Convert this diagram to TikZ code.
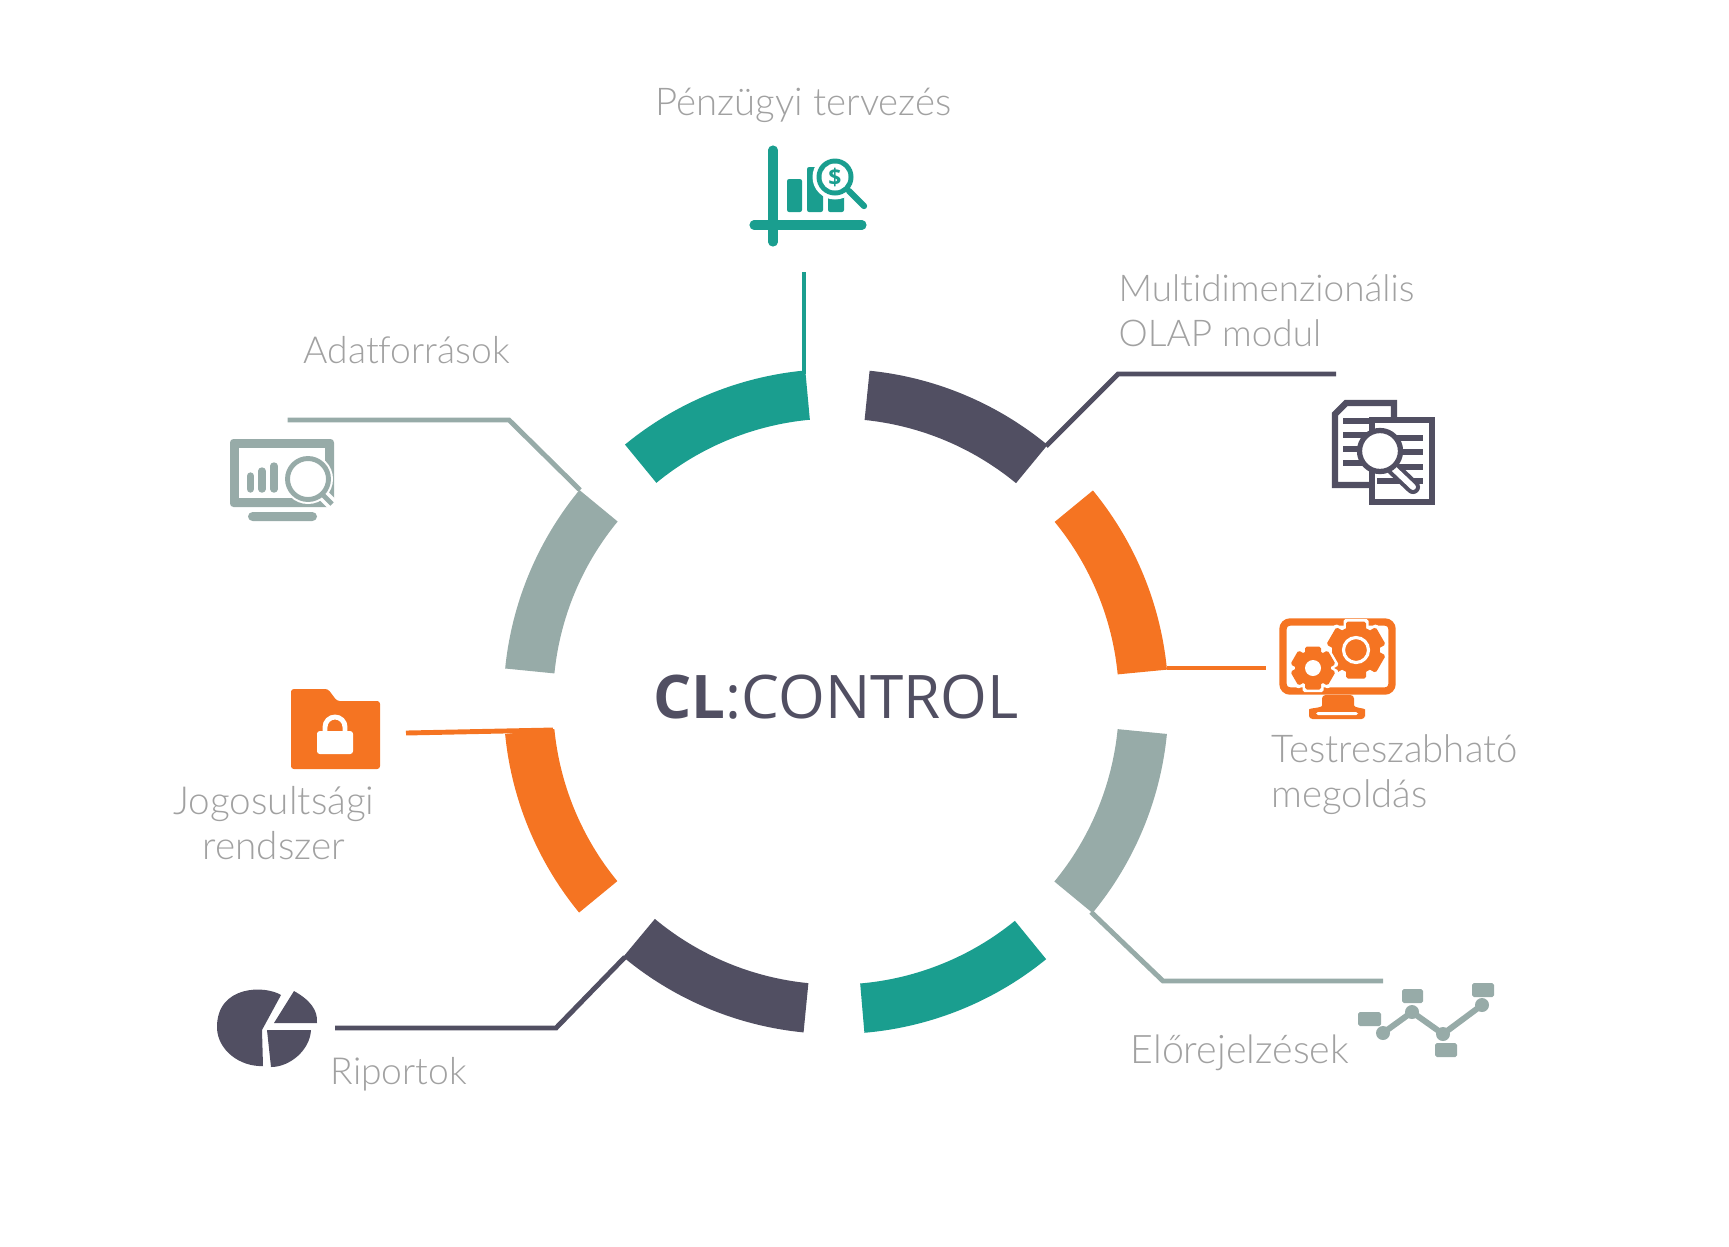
\documentclass[tikz,border=0pt]{standalone}
\usepackage{fontspec}
\setsansfont{Open Sans}
\newfontfamily\labelfont[Ligatures=NoCommon]{Lato Light}
\usetikzlibrary{positioning}
\definecolor{tealc}{HTML}{1A9E8F}
\definecolor{darkc}{HTML}{514F62}
\definecolor{orangec}{HTML}{F57422}
\definecolor{grayc}{HTML}{97ABA8}
\definecolor{textc}{HTML}{A1A1A1}
\tikzset{
  caption/.style={text=textc,font=\labelfont\fontsize{#1}{12.8}\selectfont,inner sep=0pt},
  leader/.style={line width=1.4pt,line join=miter},
}
\newcommand{\ringpart}[3]{\fill[#1] (8.36,-7.015) ++(#2:2.83) -- ++(#2:.495) arc[start angle=#2,end angle=#3,radius=3.325] -- ++(#3+180:.495) arc[start angle=#3,end angle=#2,radius=2.83] -- cycle;}
\newcommand{\cogwheel}[5]{
\begin{scope}[shift={(#1,#2)}]
\foreach \a in {90,30,150} \fill[white,rotate=\a,rounded corners=.5pt] (-#3-.025,-#5-.025) rectangle (#3+.025,#5+.025);
\fill[white] (0,0) circle (#4+.025);
\foreach \a in {90,30,150} \fill[orangec,rotate=\a,rounded corners=.5pt] (-#3,-#5) rectangle (#3,#5);
\fill[orangec] (0,0) circle (#4);
\end{scope}}
\begin{document}
\begin{tikzpicture}
\useasboundingbox (0,0) rectangle (17.29,-12.46);
\ringpart{tealc}{129.4}{95.3}
\ringpart{darkc}{84.2}{50.5}
\ringpart{orangec}{39.4}{5.5}
\ringpart{grayc}{-5.6}{-39.5}
\ringpart{tealc}{-50.8}{-85.1}
\ringpart{darkc}{-95.6}{-129.8}
\ringpart{orangec}{-140.6}{-174.4}
\ringpart{grayc}{174.3}{140.5}
\node[inner sep=0pt,anchor=base,text=darkc,font=\sffamily\fontsize{17.1}{20}\selectfont] (title) at (8.36,-7.18) {\textbf{CL}:CONTROL};

\node[caption=10.9,anchor=base] (plan) at (8.035,-1.155) {Pénzügyi tervezés};
\node[caption=10.5,anchor=base west,align=left] (olap) at (11.18,-3.46) {Multidimenzionális\\OLAP modul};
\node[caption=10.9,anchor=base west,align=left] (custom) at (12.71,-8.07) {Testreszabható\\megoldás};
\node[caption=11.2,anchor=base west] (forecast) at (11.30,-10.635) {Előrejelzések};
\node[caption=10.6,anchor=base west] (report) at (3.30,-10.845) {Riportok};
\node[caption=11,anchor=base,align=center] (rights) at (2.74,-8.59) {Jogosultsági\\rendszer};
\node[caption=10.6,anchor=base west] (source) at (3.03,-3.63) {Adatforrások};

\coordinate (plana) at (8.04,-2.72);
\coordinate (planb) at (8.04,-3.74);
\draw[leader,tealc] (plana) -- (planb);
\coordinate (olapa) at (10.46,-4.46);
\coordinate (olapb) at (11.18,-3.74);
\coordinate (olapc) at (13.36,-3.74);
\draw[leader,darkc] (olapa) -- (olapb) -- (olapc);
\coordinate (customa) at (11.67,-6.68);
\coordinate (customb) at (12.66,-6.68);
\draw[leader,orangec] (customa) -- (customb);
\coordinate (forecasta) at (10.91,-9.12);
\coordinate (forecastb) at (11.63,-9.81);
\coordinate (forecastc) at (13.83,-9.81);
\draw[leader,grayc] (forecasta) -- (forecastb) -- (forecastc);
\coordinate (reporta) at (6.25,-9.57);
\coordinate (reportb) at (5.56,-10.28);
\coordinate (reportc) at (3.35,-10.28);
\draw[leader,darkc] (reporta) -- (reportb) -- (reportc);
\coordinate (rightsa) at (5.53,-7.30);
\coordinate (rightsb) at (4.06,-7.33);
\draw[leader,orangec] (rightsa) -- (rightsb);
\coordinate (sourcea) at (5.80,-4.90);
\coordinate (sourceb) at (5.09,-4.20);
\coordinate (sourcec) at (2.875,-4.20);
\draw[leader,grayc] (sourcea) -- (sourceb) -- (sourcec);

\draw[tealc,line width=2.6pt,line cap=round] (7.73,-1.50) -- (7.73,-2.42);
\draw[tealc,line width=2.6pt,line cap=round] (7.54,-2.25) -- (8.62,-2.25);
\fill[tealc,rounded corners=.6pt] (7.87,-1.79) rectangle (8.02,-2.12);
\fill[tealc,rounded corners=.6pt] (8.07,-1.67) rectangle (8.23,-2.12);
\fill[tealc,rounded corners=.6pt] (8.28,-1.90) rectangle (8.44,-2.12);
\fill[white] (8.35,-1.77) circle (.225);
\fill[tealc] (8.35,-1.77) circle (.185);
\fill[white] (8.35,-1.77) circle (.135);
\draw[tealc,line width=1.8pt,line cap=round] (8.49,-1.91) -- (8.64,-2.06);
\node[inner sep=0pt,text=tealc,font=\sffamily\bfseries\fontsize{6.5}{7}\selectfont] (dollar) at (8.35,-1.77) {\$};

\draw[darkc,line width=1.8pt] (13.94,-4.17) -- (13.94,-4.03) -- (13.46,-4.03) -- (13.35,-4.14) -- (13.35,-4.85) -- (13.69,-4.85);
\draw[darkc,line width=1.8pt] (13.72,-4.20) rectangle (14.32,-5.02);
\draw[darkc,line width=1.45pt] (13.43,-4.21) -- (13.69,-4.21);
\draw[darkc,line width=1.45pt] (13.43,-4.35) -- (13.69,-4.35);
\draw[darkc,line width=1.45pt] (13.43,-4.49) -- (13.69,-4.49);
\draw[darkc,line width=1.45pt] (13.43,-4.63) -- (13.69,-4.63);
\draw[darkc,line width=1.45pt] (13.77,-4.38) -- (14.23,-4.38);
\draw[darkc,line width=1.45pt] (13.77,-4.52) -- (14.23,-4.52);
\draw[darkc,line width=1.45pt] (13.77,-4.67) -- (14.23,-4.67);
\draw[darkc,line width=1.45pt] (13.77,-4.81) -- (14.23,-4.81);
\draw[darkc,line width=4pt,line cap=round] (13.93,-4.68) -- (14.13,-4.87);
\draw[white,line width=1.7pt,line cap=round] (13.93,-4.68) -- (14.13,-4.87);
\draw[darkc,fill=white,line width=1.5pt] (13.80,-4.51) circle (.205);

\draw[orangec,line width=2.1pt,rounded corners=2pt] (12.83,-6.22) rectangle (13.92,-6.91);
\fill[orangec,rounded corners=1pt] (13.22,-6.95) -- (13.54,-6.95) -- (13.54,-7.02) .. controls (13.54,-7.08) and (13.65,-7.08) .. (13.65,-7.13) -- (13.65,-7.19) -- (13.09,-7.19) -- (13.09,-7.13) .. controls (13.09,-7.08) and (13.22,-7.08) .. (13.22,-7.02) -- cycle;
\fill[white,rounded corners=.5pt] (13.16,-7.12) rectangle (13.58,-7.15);
\cogwheel{13.56}{-6.50}{.285}{.24}{.10}
\draw[white,line width=.9pt] (13.56,-6.50) circle (.125);
\cogwheel{13.13}{-6.68}{.215}{.18}{.08}
\fill[white] (13.13,-6.68) circle (.08);

\fill[grayc,rounded corners=.5pt] (13.58,-10.12) rectangle (13.81,-10.26);
\fill[grayc,rounded corners=.5pt] (14.02,-9.89) rectangle (14.23,-10.03);
\fill[grayc,rounded corners=.5pt] (14.35,-10.43) rectangle (14.57,-10.57);
\fill[grayc,rounded corners=.5pt] (14.72,-9.83) rectangle (14.94,-9.97);
\draw[grayc,line width=1.7pt] (13.83,-10.33) -- (14.12,-10.12) -- (14.43,-10.34) -- (14.82,-10.05);
\fill[grayc] (13.83,-10.33) circle (.07);
\fill[grayc] (14.12,-10.12) circle (.07);
\fill[grayc] (14.43,-10.34) circle (.07);
\fill[grayc] (14.82,-10.05) circle (.07);

\fill[grayc,rounded corners=1pt] (2.30,-4.39) rectangle (3.34,-5.07);
\fill[white] (2.39,-4.48) rectangle (3.25,-4.98);
\fill[grayc,rounded corners=1.3pt] (2.48,-5.12) rectangle (3.17,-5.21);
\draw[grayc,line width=2.1pt,line cap=round] (2.505,-4.76) -- (2.505,-4.89);
\draw[grayc,line width=2.1pt,line cap=round] (2.62,-4.71) -- (2.62,-4.89);
\draw[grayc,line width=2.1pt,line cap=round] (2.74,-4.66) -- (2.74,-4.89);
\fill[white] (3.08,-4.79) circle (.25);
\draw[white,line width=3.4pt] (3.22,-4.94) -- (3.34,-5.06);
\draw[grayc,line width=1.4pt] (3.22,-4.94) -- (3.32,-5.04);
\draw[grayc,line width=1.4pt] (3.08,-4.79) circle (.205);

\fill[orangec,rounded corners=.8pt] (2.91,-6.89) -- (3.28,-6.89) -- (3.37,-7.01) -- (3.80,-7.01) -- (3.80,-7.69) -- (2.91,-7.69) -- cycle;
\fill[white,rounded corners=.8pt] (3.17,-7.31) rectangle (3.53,-7.54);
\draw[white,line width=1.4pt] (3.25,-7.33) -- (3.25,-7.27) arc[start angle=180,end angle=0,radius=.10] -- (3.45,-7.33);

\fill[darkc] (2.81,-9.95) .. controls (2.65,-9.85) and (2.17,-9.85) .. (2.17,-10.27) .. controls (2.17,-10.50) and (2.40,-10.67) .. (2.63,-10.66) -- (2.62,-10.30) -- cycle;
\fill[darkc] (2.94,-9.91) -- (2.74,-10.23) -- (3.17,-10.23) .. controls (3.18,-10.10) and (3.10,-10.00) .. (2.94,-9.91) -- cycle;
\fill[darkc] (2.67,-10.30) -- (3.11,-10.30) .. controls (3.10,-10.50) and (2.90,-10.67) .. (2.71,-10.67) -- cycle;
\end{tikzpicture}
\end{document}
